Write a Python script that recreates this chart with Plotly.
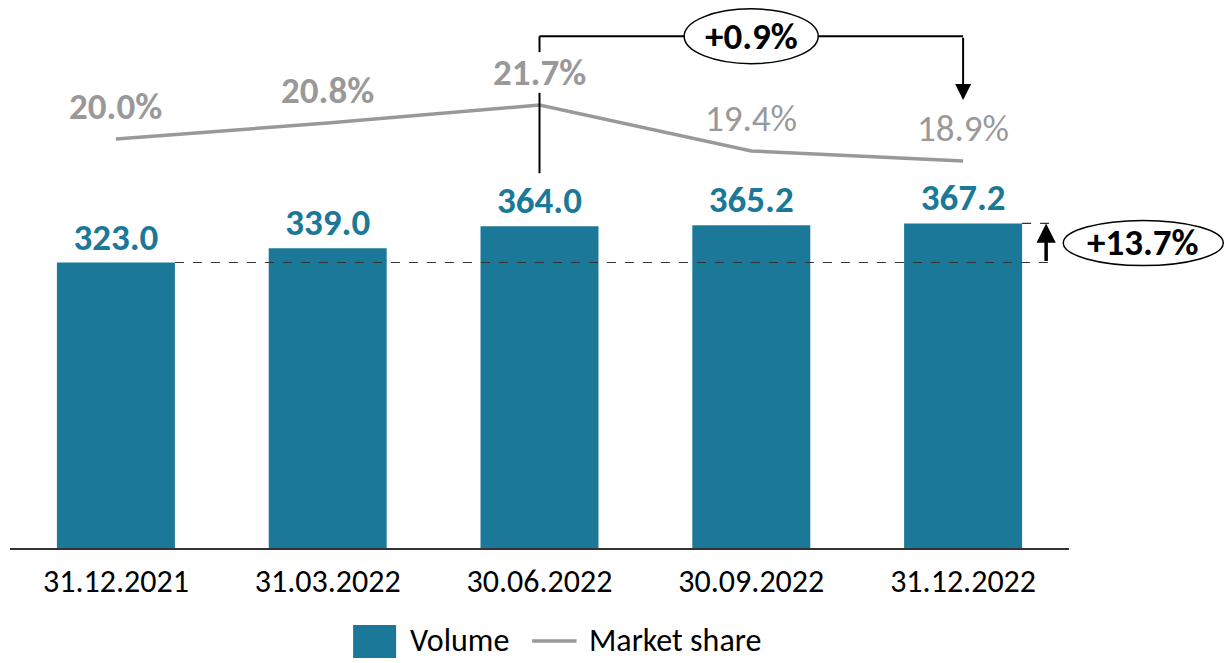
import plotly.graph_objects as go

categories = ["31.12.2021", "31.03.2022", "30.06.2022", "30.09.2022", "31.12.2022"]
volume = [323.0, 339.0, 364.0, 365.2, 367.2]
market_share = [20.0, 20.8, 21.7, 19.4, 18.9]
share_bold = [True, True, True, False, False]
volume_growth_label = "+13.7%"
share_change_label = "+0.9%"

TEAL = "#1B7898"
GRAY = "#999999"
FONT = "Carlito, Lato, sans-serif"
BAR_W = 0.557
BIG = 37
MED = 32

xs = list(range(len(categories)))

fig = go.Figure()
fig.add_trace(go.Bar(
    x=xs, y=volume, width=BAR_W, marker_color=TEAL, marker_line_width=0,
    text=[f"<b>{v:.1f}</b>" for v in volume], textposition="outside",
    textfont=dict(family=FONT, size=BIG, color=TEAL), cliponaxis=False,
    showlegend=False, hoverinfo="skip",
))
fig.add_trace(go.Scatter(
    x=xs, y=market_share, mode="lines", yaxis="y2",
    line=dict(color=GRAY, width=3.5), showlegend=False, hoverinfo="skip",
))

annotations = []
for x, s, b in zip(xs, market_share, share_bold):
    t = f"{s:.1f}%"
    annotations.append(dict(
        x=x, y=s, xref="x", yref="y2", text=f"<b>{t}</b>" if b else t,
        showarrow=False, yshift=33, xanchor="center", yanchor="middle",
        font=dict(family=FONT, size=BIG, color=GRAY),
    ))

shapes = []
# dashed reference lines for volume growth
x_dash_end = 4.43
shapes.append(dict(type="line", xref="x", yref="y", x0=xs[0] + BAR_W / 2, x1=x_dash_end,
                   y0=volume[0], y1=volume[0], line=dict(color="#333333", width=1.2, dash="dash")))
shapes.append(dict(type="line", xref="x", yref="y", x0=xs[-1] + BAR_W / 2, x1=x_dash_end,
                   y0=volume[-1], y1=volume[-1], line=dict(color="#333333", width=1.2, dash="dash")))
# up arrow
annotations.append(dict(x=4.392, y=volume[-1], ax=4.392, ay=volume[0], xref="x", yref="y",
                        axref="x", ayref="y", text="", showarrow=True, arrowhead=2,
                        arrowsize=1.1, arrowwidth=3.5, arrowcolor="black"))
# ellipse +13.7%
mid = (volume[0] + volume[-1]) / 2
shapes.append(dict(type="circle", xref="paper", yref="y", x0=0.9946, x1=1.1457,
                   y0=mid - 25.5, y1=mid + 25.5, line=dict(color="black", width=1.5)))
annotations.append(dict(x=1.0701, y=mid, xref="paper", yref="y", text=f"<b>{volume_growth_label}</b>",
                        xanchor="center", yanchor="middle",
                        showarrow=False, font=dict(family=FONT, size=BIG, color="black")))

# bracket for market share change
y_top = 579
lw = dict(color="black", width=2)
shapes.append(dict(type="line", xref="x", yref="y", x0=2, x1=2, y0=424, y1=515, line=lw))
shapes.append(dict(type="line", xref="x", yref="y", x0=2, x1=2, y0=561, y1=y_top, line=lw))
shapes.append(dict(type="line", xref="x", yref="y", x0=2, x1=2.683, y0=y_top, y1=y_top, line=lw))
shapes.append(dict(type="line", xref="x", yref="y", x0=3.316, x1=4, y0=y_top, y1=y_top, line=lw))
shapes.append(dict(type="circle", xref="x", yref="y", x0=2.683, x1=3.316, y0=548, y1=610,
                   line=dict(color="black", width=1.5)))
annotations.append(dict(x=3, y=y_top, xref="x", yref="y", text=f"<b>{share_change_label}</b>",
                        xanchor="center", yanchor="middle",
                        showarrow=False, font=dict(family=FONT, size=BIG, color="black")))
annotations.append(dict(x=4, y=506.8, ax=4, ay=y_top, xref="x", yref="y", axref="x", ayref="y",
                        text="", showarrow=True, arrowhead=2, arrowsize=1.6, arrowwidth=2,
                        arrowcolor="black"))

# custom legend
shapes.append(dict(type="rect", xref="paper", yref="paper", x0=0.324, x1=0.3646,
                   y0=-0.2007, y1=-0.1405, fillcolor=TEAL, line=dict(width=0)))
annotations.append(dict(x=0.376, y=-0.1697, xref="paper", yref="paper", text="Volume",
                        xanchor="left", yanchor="middle",
                        showarrow=False, font=dict(family=FONT, size=MED, color="black")))
shapes.append(dict(type="line", xref="paper", yref="paper", x0=0.493, x1=0.535,
                   y0=-0.1697, y1=-0.1697, line=dict(color=GRAY, width=3.5)))
annotations.append(dict(x=0.545, y=-0.1697, xref="paper", yref="paper", text="Market share",
                        xanchor="left", yanchor="middle",
                        showarrow=False, font=dict(family=FONT, size=MED, color="black")))

fig.update_layout(
    width=1230, height=663,
    margin=dict(l=10, r=161.25, t=0, b=115),
    paper_bgcolor="white", plot_bgcolor="white",
    xaxis=dict(tickmode="array", tickvals=xs, ticktext=categories, range=[-0.5, 4.5],
               showgrid=False, zeroline=False, showline=True, linecolor="#333333", linewidth=2,
               ticks="", tickfont=dict(family=FONT, size=MED, color="black"), ticklabelstandoff=4),
    yaxis=dict(range=[0, 620], visible=False, showgrid=False, zeroline=False),
    yaxis2=dict(range=[-0.45, 26.95], overlaying="y", visible=False, showgrid=False, zeroline=False),
    shapes=shapes, annotations=annotations, showlegend=False,
)

fig.write_html("out.html", config={"displayModeBar": False},
               post_script="document.body.style.margin='0';document.body.style.overflow='hidden';")
